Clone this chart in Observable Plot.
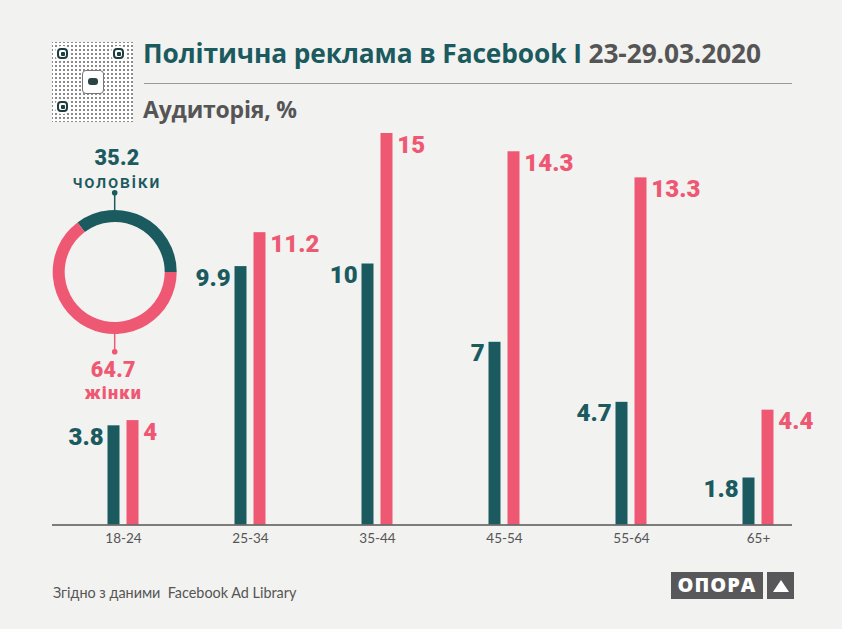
<!DOCTYPE html>
<html><head><meta charset="utf-8">
<script src="https://cdn.jsdelivr.net/npm/d3@7"></script>
<script src="https://cdn.jsdelivr.net/npm/@observablehq/plot@0.6"></script>
<style>
html,body{margin:0;padding:0;background:#f2f2f0;}
#wrap{position:relative;width:842px;height:629px;overflow:hidden;background:#f2f2f0;}
#chart{position:absolute;left:0;top:0;}
.abs{position:absolute;white-space:pre;line-height:1;}
#title{left:143px;top:39.5px;font-family:"Open Sans",sans-serif;font-weight:700;font-size:26.3px;color:#1b5a5e;letter-spacing:-0.1px;}
#title .d{color:#555;}
#rule{position:absolute;left:144px;top:82.5px;width:648px;height:1.5px;background:#9a9a9a;}
#subtitle{left:143px;top:98px;font-family:"Open Sans",sans-serif;font-weight:700;font-size:23px;color:#555;letter-spacing:-0.2px;}
#source{left:53px;top:585.5px;font-family:Lato,sans-serif;font-size:14.4px;color:#555;}
#qr{position:absolute;left:52px;top:42px;width:81px;height:80px;background:#fff;
  background-image:radial-gradient(#8a8a8a 0.9px, transparent 1.1px);background-size:4px 4px;background-position:2px 2px;}
#qr .f{position:absolute;width:7px;height:7px;border:2.5px solid #1e3d3f;border-radius:4px;background:#fff;box-shadow:0 0 0 2px #fff;}
#qr .f::after{content:"";position:absolute;left:1.5px;top:1.5px;width:4px;height:4px;background:#1e3d3f;border-radius:1px;}
#qr .c{position:absolute;left:30px;top:28px;width:20px;height:22px;background:#fff;border:1px solid #777;border-radius:4px;}
#qr .c::after{content:"";position:absolute;left:5px;top:7px;width:10px;height:7px;background:#2a4446;border-radius:3px;}
#logo .b{position:absolute;top:572.3px;height:26.7px;background:#58585a;}
#logo .t{left:670.7px;width:92.6px;color:#fff;font-family:"Open Sans",sans-serif;font-weight:800;font-size:20px;letter-spacing:1px;line-height:26.7px;text-align:center;}
#logo .tr{left:767.3px;width:26.7px;}
#logo .tr::after{content:"";position:absolute;left:5.4px;top:8px;border-left:8px solid transparent;border-right:8px solid transparent;border-bottom:12.6px solid #fff;}
</style></head><body>
<div id="wrap">
  <div id="chart"></div>
  <div id="qr">
    <div class="f" style="left:5px;top:6px"></div>
    <div class="f" style="left:61px;top:6px"></div>
    <div class="f" style="left:5px;top:59px"></div>
    <div class="c"></div>
  </div>
  <div id="title" class="abs">Політична реклама в Facebook I <span class="d">23-29.03.2020</span></div>
  <div id="rule"></div>
  <div id="subtitle" class="abs">Аудиторія, %</div>
  <div id="source" class="abs">Згідно з даними  Facebook Ad Library</div>
  <div id="logo"><div class="b t">ОПОРА</div><div class="b tr"></div></div>
</div>
<script>
// ---- data ----
const ageGroups = ["18-24", "25-34", "35-44", "45-54", "55-64", "65+"];
const menValues = [3.8, 9.9, 10, 7, 4.7, 1.8];
const womenValues = [4, 11.2, 15, 14.3, 13.3, 4.4];
const genderLabels = ["чоловіки", "жінки"];
const genderShares = [35.2, 64.7];

const TEAL = "#1b5a5e", PINK = "#ef5872";
const men = ageGroups.map((g, i) => ({group: g, value: menValues[i]}));
const women = ageGroups.map((g, i) => ({group: g, value: womenValues[i]}));
const off = 9.5, barW = 11.7, gap = 4.5;

function donut() {
  const g = d3.create("svg:g");
  const cx = 114.7, cy = 272, rO = 62, rI = 50;
  const total = d3.sum(genderShares);
  const start = Math.PI / 2 - 2 * Math.PI * genderShares[0] / total;
  const pie = d3.pie().sort(null).startAngle(start).endAngle(start + 2 * Math.PI);
  const arc = d3.arc().innerRadius(rI).outerRadius(rO);
  const cols = [TEAL, PINK];
  g.append("g").attr("transform", `translate(${cx},${cy})`)
    .selectAll("path").data(pie(genderShares)).join("path")
    .attr("d", arc).attr("fill", (d, i) => cols[i]);
  const pins = [{y1: cy - rO, y2: 192.7}, {y1: cy + rO, y2: 351.7}];
  pins.forEach((p, i) => {
    g.append("line").attr("x1", cx).attr("x2", cx).attr("y1", p.y1).attr("y2", p.y2)
      .attr("stroke", cols[i]).attr("stroke-width", 1.5);
    g.append("circle").attr("cx", cx).attr("cy", p.y2).attr("r", 2.8).attr("fill", cols[i]);
  });
  const labs = [
    {x: 117, yv: 164.5, yl: 187.5, lw: 500, ls: 1.6},
    {x: 113.3, yv: 376.5, yl: 399, lw: 900, ls: 1.2}
  ];
  labs.forEach((l, i) => {
    g.append("text").attr("x", l.x).attr("y", l.yv).attr("text-anchor", "middle")
      .attr("fill", cols[i]).attr("font-family", "Roboto, sans-serif")
      .attr("font-weight", 900).attr("font-size", 21.5).attr("letter-spacing", 0.3).text(String(genderShares[i]));
    g.append("text").attr("x", l.x).attr("y", l.yl).attr("text-anchor", "middle")
      .attr("fill", cols[i]).attr("font-family", "Roboto, sans-serif")
      .attr("letter-spacing", l.ls)
      .attr("font-weight", l.lw).attr("font-size", 18).text(genderLabels[i]);
  });
  return g.node();
}

const chart = Plot.plot({
  width: 842, height: 629,
  marginTop: 133, marginBottom: 104.5, marginLeft: 52, marginRight: 50,
  style: {background: "transparent", fontFamily: "Lato, sans-serif", fontSize: "13.5px", color: "#555"},
  x: {type: "band", domain: ageGroups, paddingInner: 0.908, paddingOuter: 0.363, align: 0.695,
      label: null, tickSize: 0, tickPadding: 8},
  y: {domain: [0, 15], axis: null},
  marks: [
    Plot.barY(men, {x: "group", y: "value", fill: TEAL, dx: -off}),
    Plot.barY(women, {x: "group", y: "value", fill: PINK, dx: off}),
    Plot.ruleY([0], {stroke: "#555", strokeWidth: 1.3}),
    Plot.text(men, {x: "group", y: "value", text: d => String(d.value), dx: -(off + barW / 2 + gap), dy: 2,
      textAnchor: "end", lineAnchor: "top", fill: TEAL, fontSize: 24, fontWeight: 900, fontFamily: "Roboto, sans-serif"}),
    Plot.text(women, {x: "group", y: "value", text: d => String(d.value), dx: (off + barW / 2 + gap), dy: 2,
      textAnchor: "start", lineAnchor: "top", fill: PINK, fontSize: 24, fontWeight: 900, fontFamily: "Roboto, sans-serif"}),
    donut
  ]
});
document.getElementById("chart").appendChild(chart);
</script>
</body></html>
